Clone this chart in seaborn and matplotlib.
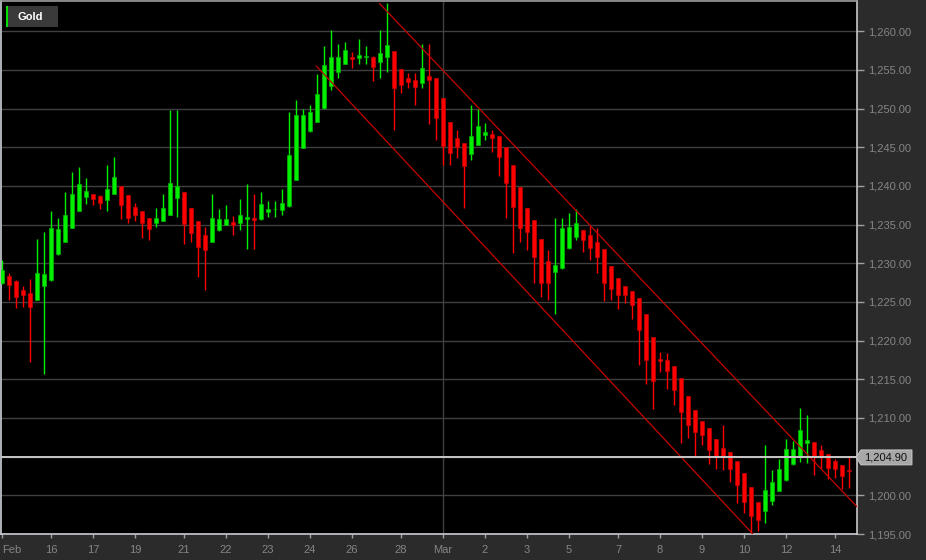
import numpy as np
import matplotlib
matplotlib.use("Agg")
import matplotlib.pyplot as plt
from matplotlib.patches import Rectangle, Polygon
import seaborn as sns

# 4-hour gold candles
opens = [1227.5, 1228.35, 1227.75, 1226.6, 1226.2, 1225.25, 1227.05, 1227.8, 1231.2, 1232.8,
         1234.55, 1236.8, 1238.6, 1239.0, 1238.7, 1238.2, 1239.0, 1240.0, 1238.8, 1237.25,
         1236.8, 1235.9, 1235.2, 1235.5, 1236.3, 1238.4, 1239.2, 1237.1, 1235.45, 1233.7,
         1232.7, 1234.3, 1235.0, 1235.3, 1235.2, 1235.75, 1235.8, 1235.7, 1236.65, 1236.95,
         1236.9, 1237.4, 1240.75, 1244.9, 1247.1, 1248.3, 1250.1, 1252.9, 1254.75, 1255.8,
         1256.65, 1256.55, 1256.7, 1256.7, 1256.05, 1256.65, 1257.4, 1255.05, 1254.0, 1253.7,
         1253.3, 1254.2, 1253.95, 1251.3, 1248.2, 1246.15, 1245.6, 1244.15, 1245.3, 1246.6,
         1246.75, 1246.45, 1245.05, 1242.7, 1239.9, 1237.2, 1235.6, 1233.1, 1230.3, 1228.9,
         1229.35, 1232.0, 1233.4, 1234.25, 1233.65, 1232.8, 1231.8, 1229.65, 1228.1, 1227.05,
         1226.4, 1225.45, 1223.45, 1220.5, 1217.6, 1217.45, 1216.75, 1215.15, 1212.9, 1211.0,
         1209.6, 1208.65, 1207.25, 1206.1, 1205.55, 1204.45, 1202.85, 1201.05, 1199.2, 1197.95,
         1199.3, 1200.55, 1202.0, 1204.0, 1205.0, 1206.7, 1206.9, 1205.85, 1205.4, 1204.45,
         1203.9, 1203.3]
highs = [1230.4, 1228.7, 1227.8, 1227.0, 1227.9, 1233.1, 1234.1, 1236.7, 1235.9, 1239.2,
         1241.75, 1242.4, 1241.0, 1239.0, 1238.8, 1242.65, 1243.7, 1240.0, 1238.8, 1237.8,
         1236.8, 1235.9, 1237.1, 1238.9, 1249.8, 1249.8, 1239.2, 1237.2, 1235.45, 1234.7,
         1238.9, 1237.0, 1237.5, 1236.05, 1238.25, 1240.3, 1238.9, 1239.15, 1238.0, 1238.0,
         1239.55, 1249.6, 1251.1, 1250.0, 1250.4, 1254.45, 1258.05, 1260.2, 1258.4, 1258.65,
         1257.25, 1259.05, 1258.05, 1256.75, 1260.1, 1263.65, 1257.4, 1255.05, 1254.65, 1254.65,
         1258.3, 1258.3, 1253.95, 1251.3, 1248.2, 1247.2, 1245.6, 1250.5, 1250.0, 1248.1,
         1247.2, 1246.45, 1245.05, 1242.7, 1239.9, 1237.2, 1235.6, 1233.1, 1231.7, 1235.9,
         1235.9, 1236.45, 1237.0, 1234.25, 1234.8, 1234.5, 1231.8, 1229.65, 1228.1, 1227.05,
         1226.4, 1225.45, 1223.45, 1220.5, 1218.55, 1218.35, 1216.75, 1215.15, 1212.9, 1211.0,
         1209.6, 1208.65, 1207.25, 1209.1, 1205.55, 1204.45, 1202.85, 1201.05, 1199.2, 1206.55,
         1203.3, 1204.75, 1207.25, 1207.05, 1211.3, 1210.35, 1206.9, 1206.5, 1205.4, 1204.7,
         1203.9, 1204.9]
lows = [1227.3, 1225.3, 1224.2, 1224.3, 1217.2, 1225.2, 1215.65, 1227.7, 1231.05, 1232.75,
        1234.5, 1236.7, 1237.65, 1237.5, 1236.95, 1236.7, 1238.9, 1235.7, 1235.25, 1235.4,
        1233.2, 1233.0, 1234.7, 1235.4, 1236.2, 1236.0, 1232.55, 1232.7, 1228.2, 1226.55,
        1232.7, 1234.2, 1234.9, 1233.7, 1234.3, 1231.8, 1231.9, 1235.6, 1236.0, 1236.0,
        1236.2, 1237.3, 1240.7, 1244.85, 1247.0, 1248.25, 1250.0, 1252.45, 1254.0, 1255.7,
        1255.2, 1255.7, 1255.8, 1253.5, 1254.0, 1254.7, 1247.2, 1251.95, 1252.7, 1250.4,
        1252.6, 1248.05, 1245.9, 1242.7, 1242.7, 1243.55, 1237.1, 1243.35, 1245.3, 1245.9,
        1244.4, 1241.3, 1235.9, 1231.3, 1232.8, 1231.7, 1227.5, 1225.6, 1225.25, 1223.45,
        1229.3, 1231.9, 1233.0, 1231.4, 1230.4, 1228.7, 1225.15, 1225.3, 1224.15, 1224.8,
        1222.75, 1216.9, 1214.35, 1211.1, 1216.0, 1213.7, 1211.7, 1206.8, 1207.4, 1205.1,
        1206.5, 1204.1, 1203.4, 1203.3, 1201.7, 1198.95, 1197.75, 1195.1, 1195.45, 1196.4,
        1198.75, 1200.5, 1201.9, 1203.95, 1204.35, 1204.2, 1202.65, 1203.5, 1202.1, 1202.2,
        1200.8, 1200.9]
closes = [1229.1, 1227.2, 1225.7, 1225.85, 1224.3, 1228.7, 1228.6, 1234.55, 1234.4, 1236.2,
          1239.0, 1240.3, 1239.4, 1238.35, 1237.75, 1239.65, 1241.1, 1237.55, 1235.9, 1236.3,
          1235.25, 1234.45, 1235.8, 1237.1, 1240.4, 1240.05, 1235.1, 1233.85, 1232.1, 1231.7,
          1235.8, 1235.7, 1235.7, 1235.0, 1236.2, 1235.97, 1235.6, 1237.6, 1237.0, 1237.05,
          1237.85, 1244.0, 1249.15, 1249.15, 1249.5, 1251.85, 1255.65, 1256.6, 1256.7, 1257.6,
          1256.4, 1256.9, 1256.75, 1255.4, 1257.15, 1258.2, 1252.7, 1253.0, 1253.45, 1252.75,
          1255.2, 1253.75, 1248.8, 1245.15, 1244.2, 1245.05, 1242.6, 1246.45, 1247.8, 1246.95,
          1246.15, 1243.7, 1240.35, 1237.3, 1234.5, 1234.1, 1230.75, 1227.5, 1227.5, 1229.8,
          1234.5, 1234.7, 1235.15, 1233.0, 1232.0, 1230.85, 1227.5, 1226.65, 1225.9, 1225.9,
          1224.6, 1221.4, 1217.55, 1214.8, 1217.3, 1216.05, 1213.6, 1210.8, 1209.1, 1208.2,
          1207.75, 1205.8, 1205.0, 1205.0, 1203.35, 1201.35, 1199.2, 1197.35, 1196.75, 1200.7,
          1201.7, 1203.45, 1205.95, 1206.0, 1208.45, 1207.15, 1205.0, 1205.0, 1203.5, 1203.4,
          1202.55, 1203.15]

# date labels and the candle index where each day starts
tick_pos = [0, 7, 13, 19, 26, 32, 38, 44, 50, 57, 63, 69, 75, 81, 88, 94, 100, 106, 112, 119]
tick_labels = ["Feb", "16", "17", "19", "21", "22", "23", "24", "26", "28",
               "Mar", "2", "3", "5", "7", "8", "9", "10", "12", "14"]

# downward channel (two trend lines)
upper_x = [53.9, 125.0]
upper_y = [1263.6, 1195.8]
lower_x = [44.9, 112.0]
lower_y = [1255.5, 1190.4]

last_price = 1204.90

W, H = 926, 560
sns.set_theme(style="dark", rc={"axes.facecolor": "black", "figure.facecolor": "#2b2b2b"})
plt.rcParams["font.family"] = ["Liberation Sans", "DejaVu Sans"]

fig = plt.figure(figsize=(W / 100, H / 100), dpi=100)
ax = fig.add_axes([1 / W, (H - 534) / H, 855.7 / W, 533 / H])
ax.set_facecolor("black")

x = np.arange(len(opens))
o = np.array(opens)
c = np.array(closes)
up = c >= o
body_col = np.where(up, "#00f000", "#ff0000")
edge_col = np.where(up, "#00b400", "#c00000")

ax.vlines(x, lows, highs, colors=body_col, linewidth=1.0, zorder=3)
bottom = np.minimum(o, c)
height = np.maximum(np.abs(c - o), 0.12)
ax.bar(x, height, bottom=bottom, width=0.68, color=body_col,
       edgecolor=edge_col, linewidth=0.5, zorder=4)

sns.lineplot(x=upper_x, y=upper_y, ax=ax, color="#c80000", linewidth=0.9, zorder=5)
sns.lineplot(x=lower_x, y=lower_y, ax=ax, color="#c80000", linewidth=0.9, zorder=5)

ax.set_xlim(-0.15, 122.1)
ax.set_ylim(1195, 1263.9)

yt = np.arange(1195, 1261, 5)
ax.yaxis.tick_right()
ax.set_yticks(yt)
# the 1,205.00 label sits under the last-price tag, so it is left blank
ax.set_yticklabels(["" if v == 1205 else f"{v:,.2f}" for v in yt])
ax.set_xticks(tick_pos)
ax.set_xticklabels(tick_labels)
ax.get_xticklabels()[0].set_horizontalalignment("left")

ax.grid(False)
for v in yt:
    ax.axhline(v, color="#404040", linewidth=1.0, zorder=1)
ax.axvline(63, color="#404040", linewidth=1.0, zorder=1)
ax.axhline(last_price, color="#c8c8c8", linewidth=1.4, zorder=6)

ax.tick_params(axis="y", which="both", right=True, left=False, length=5, width=1,
               color="#a0a0a0", labelcolor="#858585", labelsize=8, pad=3)
ax.tick_params(axis="x", which="both", bottom=True, length=3, width=1,
               color="#a0a0a0", labelcolor="#858585", labelsize=8, pad=5)
for side, col in [("left", "#c8ccd4"), ("bottom", "#c8ccd4"), ("right", "#c8c8c8"), ("top", "#9a9a9a")]:
    ax.spines[side].set_visible(True)
    ax.spines[side].set_color(col)
    ax.spines[side].set_linewidth(1.2)


def px(xp, yp):
    return xp / W, 1 - yp / H


# legend tag at top left
fig.add_artist(Rectangle(px(6, 27), 52 / W, 21 / H, transform=fig.transFigure,
                         facecolor="#3a3a3a", edgecolor="none", zorder=10))
fig.add_artist(Rectangle(px(6, 27), 2.2 / W, 21 / H, transform=fig.transFigure,
                         facecolor="#00e000", edgecolor="none", zorder=11))
fig.text(*px(17, 16.5), "Gold", color="white", fontsize=8, fontweight="bold",
         va="center", ha="left", zorder=12)

# last price label on the right axis
_, ly = ax.transData.transform((0, last_price))
ly = H - ly
tag = Polygon([px(856, ly), px(861, ly - 7.5), px(912, ly - 7.5), px(912, ly + 7.5), px(861, ly + 7.5)],
              closed=True, transform=fig.transFigure, facecolor="#a8a8a8", edgecolor="#d0d0d0",
              linewidth=0.6, zorder=10)
fig.add_artist(tag)
fig.text(*px(886, ly), "1,204.90", color="#101010", fontsize=8, va="center", ha="center", zorder=11)

fig.savefig("out.png", dpi=100, facecolor=fig.get_facecolor())
